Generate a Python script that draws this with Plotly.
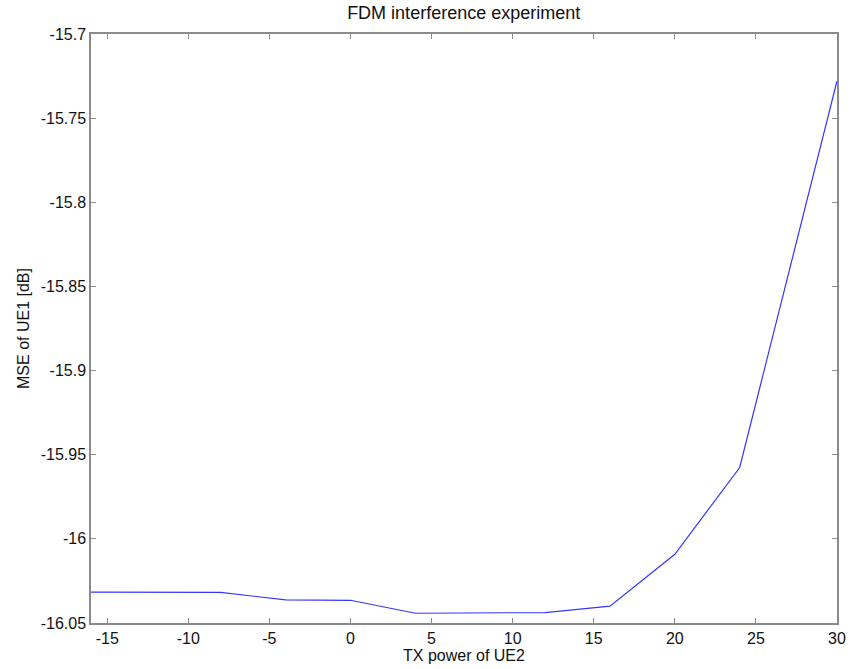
import plotly.graph_objects as go

# TX power of UE2 and resulting MSE of UE1
tx_power = [-16, -12, -8, -4, 0, 4, 8, 12, 16, 20, 24, 30]
mse_db = [-16.0317, -16.0317, -16.0318, -16.0363, -16.0365, -16.0442, -16.0440,
          -16.0438, -16.0400, -16.0092, -15.9576, -15.7279]

x_tick_vals = [-15, -10, -5, 0, 5, 10, 15, 20, 25, 30]
x_tick_text = ["-15", "-10", "-5", "0", "5", "10", "15", "20", "25", "30"]
y_tick_vals = [-15.7, -15.75, -15.8, -15.85, -15.9, -15.95, -16.0, -16.05]
y_tick_text = ["-15.7", "-15.75", "-15.8", "-15.85", "-15.9", "-15.95", "-16", "-16.05"]

font_family = "Liberation Sans, Arial, sans-serif"
text_color = "#111111"
axis_color = "#8a8a8a"

fig = go.Figure()
fig.add_trace(go.Scatter(
    x=tx_power, y=mse_db, mode="lines",
    line=dict(color="#3535ff", width=1.2),
    showlegend=False, hoverinfo="x+y",
))

axis_common = dict(
    automargin=False,
    showgrid=False, zeroline=False,
    showline=True, linecolor=axis_color, linewidth=1.5,
    mirror="ticks", ticks="inside", ticklen=5, tickwidth=1.2, tickcolor=axis_color,
    tickfont=dict(family=font_family, size=16, color=text_color),
)

fig.update_layout(
    width=850, height=669,
    margin=dict(l=91, r=13, t=34, b=46),
    paper_bgcolor="white", plot_bgcolor="white",
    title=dict(text="FDM interference experiment", x=0.5455, xanchor="center",
               y=0.981, yanchor="middle",
               font=dict(family=font_family, size=18, color=text_color)),
    xaxis=dict(range=[-16, 30], tickvals=x_tick_vals, ticktext=x_tick_text,
               title=dict(text="TX power of UE2", standoff=4,
                          font=dict(family=font_family, size=16, color=text_color)),
               **axis_common),
    yaxis=dict(range=[-16.05, -15.7], tickvals=y_tick_vals, ticktext=y_tick_text,
               title=dict(text="MSE of UE1 [dB]", standoff=7,
                          font=dict(family=font_family, size=16, color=text_color)),
               **axis_common),
)

fig.write_html("out.html")
